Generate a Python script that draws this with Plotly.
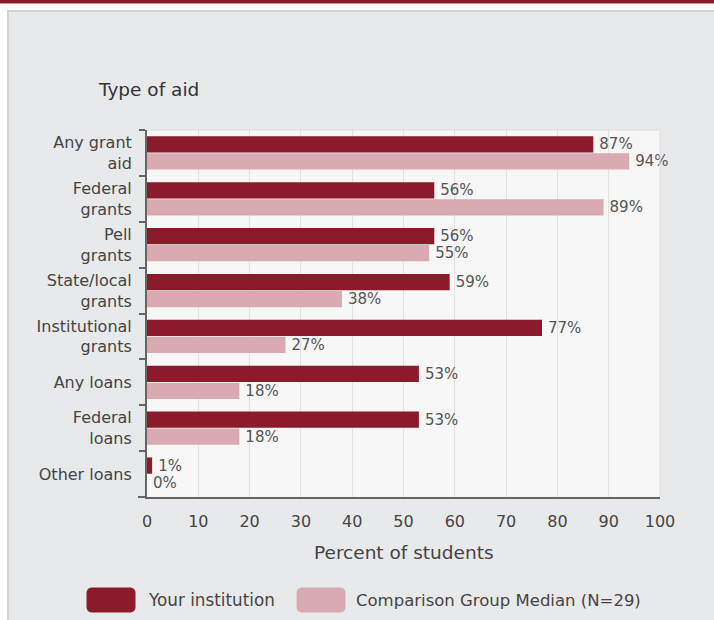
import plotly.graph_objects as go

categories = ["Any grant<br>aid", "Federal<br>grants", "Pell<br>grants", "State/local<br>grants",
              "Institutional<br>grants", "Any loans", "Federal<br>loans", "Other loans"]
your_institution = [87, 56, 56, 59, 77, 53, 53, 1]
comparison_median = [94, 89, 55, 38, 27, 18, 18, 0]
series_names = ["Your institution", "Comparison Group Median (N=29)"]
x_ticks = [0, 10, 20, 30, 40, 50, 60, 70, 80, 90, 100]

DARK = "#8b1a2b"
LIGHT = "#d9aab2"
TEXT = "#444444"
FONT = "DejaVu Sans"

fig = go.Figure()
for name, vals, col in [(series_names[0], your_institution, DARK),
                        (series_names[1], comparison_median, LIGHT)]:
    fig.add_trace(go.Bar(
        y=categories, x=vals, name=name, orientation="h",
        marker=dict(color=col, line=dict(width=0)),
        texttemplate="\u2009%{x}%", textposition="outside", cliponaxis=False,
        constraintext="none",
        textfont=dict(family=FONT, size=15, color="#555555"),
        showlegend=False,
    ))

L, R, T, B = 147, 54, 130, 123
W, H = 714, 620
pw, ph = W - L - R, H - T - B

def px(x):
    return (x - L) / pw

def py(y):
    return (H - B - y) / ph

def rounded_rect(x0, y0, x1, y1, r):
    # pixel coords -> paper path with rounded corners
    rx, ry = r / pw, r / ph
    X0, X1 = px(x0), px(x1)
    Yt, Yb = py(y0), py(y1)
    return (f"M {X0 + rx},{Yt} L {X1 - rx},{Yt} Q {X1},{Yt} {X1},{Yt - ry} "
            f"L {X1},{Yb + ry} Q {X1},{Yb} {X1 - rx},{Yb} "
            f"L {X0 + rx},{Yb} Q {X0},{Yb} {X0},{Yb + ry} "
            f"L {X0},{Yt - ry} Q {X0},{Yt} {X0 + rx},{Yt} Z")

shapes = [
    # top white strip and red band
    dict(type="rect", xref="paper", yref="paper", x0=px(-20), x1=px(740), y0=py(10), y1=py(-20),
         fillcolor="white", line=dict(width=0), layer="below"),
    dict(type="rect", xref="paper", yref="paper", x0=px(-20), x1=px(740), y0=py(3.5), y1=py(-20),
         fillcolor=DARK, line=dict(width=0), layer="below"),
    # left white strip
    dict(type="rect", xref="paper", yref="paper", x0=px(-20), x1=px(7), y0=py(640), y1=py(10),
         fillcolor="white", line=dict(width=0), layer="below"),
    # panel borders
    dict(type="line", xref="paper", yref="paper", x0=px(7), x1=px(740), y0=py(11), y1=py(11),
         line=dict(color="#d2d2d2", width=2), layer="below"),
    dict(type="line", xref="paper", yref="paper", x0=px(8), x1=px(8), y0=py(640), y1=py(10),
         line=dict(color="#d2d2d2", width=2), layer="below"),
    # plot frame (top, right)
    dict(type="line", xref="paper", yref="paper", x0=0, x1=1, y0=1, y1=1,
         line=dict(color="#dedede", width=1)),
    dict(type="line", xref="paper", yref="paper", x0=1, x1=1, y0=0, y1=1,
         line=dict(color="#dedede", width=1)),
    # extension of bottom axis line to the left
    dict(type="line", xref="paper", yref="paper", x0=px(138), x1=0, y0=0, y1=0,
         line=dict(color="#666666", width=2)),
    # legend swatches
    dict(type="path", xref="paper", yref="paper", path=rounded_rect(87, 588, 135, 612, 5),
         fillcolor=DARK, line=dict(color=DARK, width=1)),
    dict(type="path", xref="paper", yref="paper", path=rounded_rect(297, 588, 345, 612, 5),
         fillcolor=LIGHT, line=dict(color=LIGHT, width=1)),
]

annotations = [
    dict(text="Type of aid", xref="paper", yref="paper", x=px(96), y=py(89),
         xanchor="left", yanchor="middle", showarrow=False,
         font=dict(family=FONT, size=18.5, color="#333333")),
    dict(text="Percent of students", xref="paper", yref="paper", x=0.5, y=py(552),
         xanchor="center", yanchor="middle", showarrow=False,
         font=dict(family=FONT, size=18.5, color=TEXT)),
    dict(text=series_names[0], xref="paper", yref="paper", x=px(146), y=py(600),
         xanchor="left", yanchor="middle", showarrow=False,
         font=dict(family=FONT, size=16.8, color=TEXT)),
    dict(text=series_names[1], xref="paper", yref="paper", x=px(354), y=py(600),
         xanchor="left", yanchor="middle", showarrow=False,
         font=dict(family=FONT, size=16.5, color=TEXT)),
]

fig.update_layout(
    width=W, height=H,
    margin=dict(l=L, r=R, t=T, b=B, autoexpand=False),
    paper_bgcolor="#e8e9eb",
    plot_bgcolor="#f7f7f7",
    barmode="group", bargap=0.26, bargroupgap=0.04,
    font=dict(family=FONT, color=TEXT),
    shapes=shapes, annotations=annotations,
    xaxis=dict(range=[0, 100], tickvals=x_ticks, ticktext=[str(v) for v in x_ticks],
               showgrid=True, gridcolor="#e2e2e2", gridwidth=1,
               showline=True, linecolor="#666666", linewidth=2,
               ticks="", ticklabelstandoff=9, zeroline=False,
               tickfont=dict(family=FONT, size=16, color=TEXT)),
    yaxis=dict(autorange="reversed", showgrid=False,
               showline=True, linecolor="#666666", linewidth=2,
               ticks="outside", tickson="boundaries", ticklen=6, tickcolor="#666666", tickwidth=2,
               ticklabelstandoff=10,
               tickfont=dict(family=FONT, size=16, color=TEXT)),
)

fig.write_html(
    "out.html",
    config={"displayModeBar": False},
    post_script="document.body.style.margin='0';document.body.style.overflow='hidden';",
)
